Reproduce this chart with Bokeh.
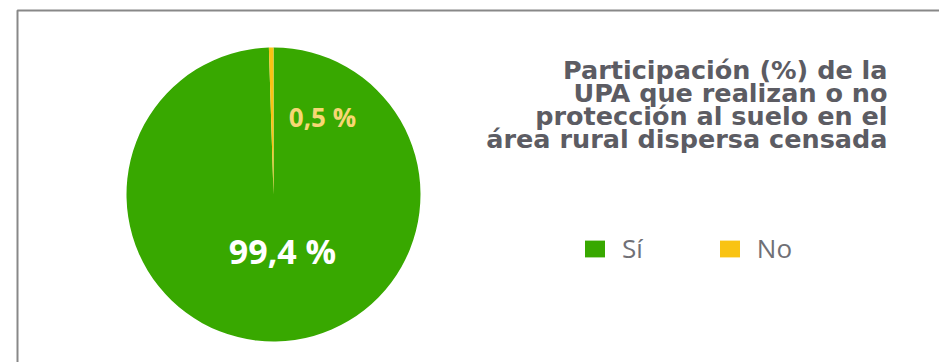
from bokeh.plotting import figure
from bokeh.models import Range1d, BoxAnnotation, Legend, LegendItem, ColumnDataSource
from bokeh.core.properties import value
from bokeh.embed import file_html
from bokeh.resources import INLINE
import math

categories = ["Sí", "No"]
values = [99.4, 0.5]
label_texts = ["99,4 %", "0,5 %"]
colors = ["#38A800", "#F9C313"]
label_colors = ["#FFFFFF", "#F7D774"]
title_lines = ["Participación (%) de la", "UPA que realizan o no",
               "protección al suelo en el", "área rural dispersa censada"]

W, H = 939, 362
p = figure(width=W, height=H, output_backend="svg", toolbar_location=None,
           x_range=Range1d(0, W), y_range=Range1d(0, H), min_border=0)
p.axis.visible = False
p.grid.visible = False
p.outline_line_color = None
p.background_fill_color = "white"
p.border_fill_color = "white"

# frame border (top and left visible)
p.add_layout(BoxAnnotation(left=17, right=W + 50, top=H - 10, bottom=-50,
                           fill_alpha=0, line_color="#888888", line_alpha=1.0,
                           line_width=2))

cx, cy, r = 273, H - 194, 147
total = sum(values)
start = math.pi / 2
renderers = []
for cat, v, c in zip(categories, values, colors):
    ang = v / total * 2 * math.pi
    end = start - ang
    src = ColumnDataSource(dict(x=[cx], y=[cy], s=[end], e=[start]))
    rr = p.wedge(x="x", y="y", radius=r, start_angle="s", end_angle="e",
                 direction="anticlock", fill_color=c, line_color=None, source=src)
    renderers.append(rr)
    start = end

# data labels
p.text(x=[282], y=[H - 250], text=[label_texts[0]], text_color=label_colors[0],
       text_font=value("Open Sans"), text_font_style="bold", text_font_size="34px",
       text_align="center", text_baseline="middle")
p.text(x=[322], y=[H - 116], text=[label_texts[1]], text_color=label_colors[1],
       text_font=value("Open Sans"), text_font_style="bold", text_font_size="26px",
       text_align="center", text_baseline="middle")

# title
for i, line in enumerate(title_lines):
    p.text(x=[887], y=[H - (69 + 23.3 * i)], text=[line], text_color="#5C5C63",
           text_font=value("DejaVu Sans"), text_font_style="bold", text_font_size="25.5px",
           text_align="right", text_baseline="alphabetic")

legend = Legend(items=[LegendItem(label=cat, renderers=[rr]) for cat, rr in zip(categories, renderers)],
                orientation="horizontal", location=(582, H - 266), padding=0, margin=0,
                spacing=74, glyph_width=25, glyph_height=21, label_height=21,
                label_standoff=15, label_text_baseline="middle",
                label_text_font="Open Sans", label_text_font_size="26px",
                label_text_color="#707076", border_line_color=None,
                background_fill_alpha=0)
p.add_layout(legend)

open("out.html", "w").write(file_html(p, INLINE))
